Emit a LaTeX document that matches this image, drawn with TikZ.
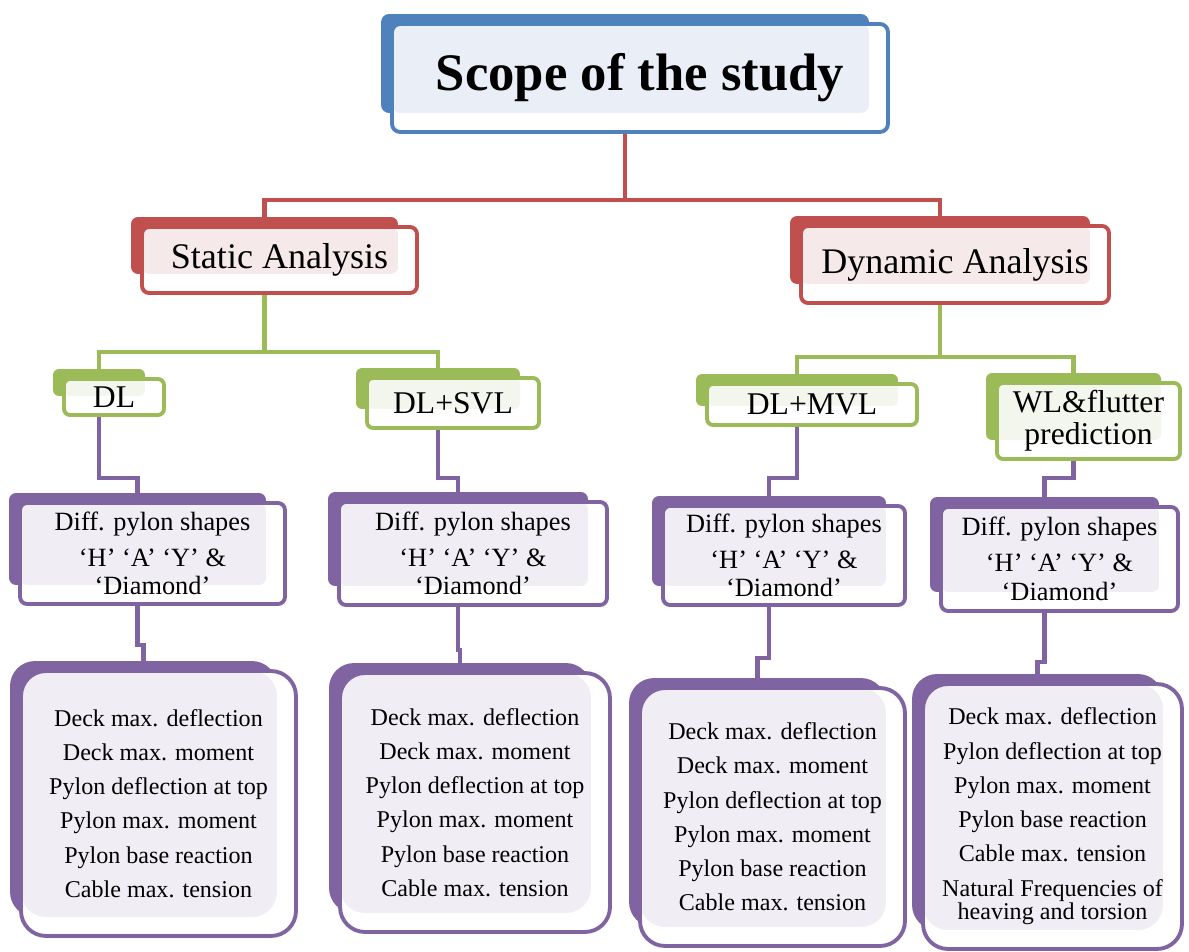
\documentclass[tikz,border=0pt]{standalone}
\usepackage{fontspec}
\setmainfont{Liberation Serif}
\usetikzlibrary{fit,backgrounds}
\definecolor{cblue}{HTML}{4F81BD}
\definecolor{tblue}{HTML}{EAEFF7}
\definecolor{cred}{HTML}{C0504D}
\definecolor{tred}{HTML}{F6E9E9}
\definecolor{cgreen}{HTML}{9BBB59}
\definecolor{tgreen}{HTML}{F3F6EC}
\definecolor{cpurple}{HTML}{8064A2}
\definecolor{tpurple}{HTML}{F0EEF4}
\begin{document}
\begin{tikzpicture}[x=0.02cm,y=-0.02cm,
  frame/.style n args={3}{draw=#1,fill=white,line width=2.2pt,inner sep=0pt,outer sep=0pt,align=center,rounded corners=#3,
    path picture={\fill[#2,rounded corners=#3] (path picture bounding box.north west) rectangle ([shift={(-0.38cm,0.38cm)}]path picture bounding box.south east);}},
  back/.style={fill=#1,inner sep=0pt,outer sep=0pt},
  link/.style={draw=#1,line width=2.6pt},
  bigtext/.style={font=\fontsize{20.5}{24}\selectfont},
  midtext/.style={font=\fontsize{18}{18}\selectfont},
  shapetext/.style={font=\fontsize{15}{20.4}\selectfont},
  listtext/.style={font=\fontsize{13.7}{19.5}\selectfont}]
\useasboundingbox (0,0) rectangle (1189,952);

% level 0 and 1
\node[frame={cblue}{tblue}{0.16cm},minimum width=9.92cm,minimum height=2.16cm,font=\fontsize{30}{34}\selectfont\bfseries] (title) at (640,78) {Scope of the study};
\node[frame={cred}{tred}{0.14cm},minimum width=5.5cm,minimum height=1.32cm,bigtext] (static) at (279.5,260) {Static Analysis};
\node[frame={cred}{tred}{0.14cm},minimum width=6.16cm,minimum height=1.54cm,bigtext] (dynamic) at (955,264.5) {Dynamic Analysis};

% load cases
\node[frame={cgreen}{tgreen}{0.12cm},minimum width=2.0cm,minimum height=0.72cm,midtext] (dl) at (114,397) {DL};
\node[frame={cgreen}{tgreen}{0.12cm},minimum width=3.44cm,minimum height=1.0cm,midtext] (dlsvl) at (453,403) {DL+SVL};
\node[frame={cgreen}{tgreen}{0.12cm},minimum width=4.2cm,minimum height=0.82cm,midtext] (dlmvl) at (812,404.5) {DL+MVL};
\node[frame={cgreen}{tgreen}{0.12cm},minimum width=3.66cm,minimum height=1.52cm,midtext] (wl) at (1088.5,421) {WL\&flutter\\prediction};

% pylon shapes
\node[frame={cpurple}{tpurple}{0.14cm},minimum width=5.3cm,minimum height=2.02cm,shapetext] (diffa) at (152.5,553.5) {Diff. pylon shapes\\‘H’ ‘A’ ‘Y’ \&\\[-4pt]‘Diamond’};
\node[frame={cpurple}{tpurple}{0.14cm},minimum width=5.36cm,minimum height=2.06cm,shapetext] (diffb) at (473,553.5) {Diff. pylon shapes\\‘H’ ‘A’ ‘Y’ \&\\[-4pt]‘Diamond’};
\node[frame={cpurple}{tpurple}{0.14cm},minimum width=4.84cm,minimum height=1.98cm,shapetext] (diffc) at (784,555.5) {Diff. pylon shapes\\‘H’ ‘A’ ‘Y’ \&\\[-4pt]‘Diamond’};
\node[frame={cpurple}{tpurple}{0.14cm},minimum width=4.74cm,minimum height=2.08cm,shapetext] (diffd) at (1059.5,559) {Diff. pylon shapes\\‘H’ ‘A’ ‘Y’ \&\\[-4pt]‘Diamond’};

% results
\node[frame={cpurple}{tpurple}{0.5cm},minimum width=5.5cm,minimum height=5.3cm,listtext] (lista) at (158.5,803.5) {Deck max. deflection\\Deck max. moment\\Pylon deflection at top\\Pylon max. moment\\Pylon base reaction\\Cable max. tension};
\node[frame={cpurple}{tpurple}{0.5cm},minimum width=5.4cm,minimum height=5.18cm,listtext] (listb) at (475,802.5) {Deck max. deflection\\Deck max. moment\\Pylon deflection at top\\Pylon max. moment\\Pylon base reaction\\Cable max. tension};
\node[frame={cpurple}{tpurple}{0.5cm},minimum width=5.3cm,minimum height=5.16cm,listtext] (listc) at (772.5,817) {Deck max. deflection\\Deck max. moment\\Pylon deflection at top\\Pylon max. moment\\Pylon base reaction\\Cable max. tension};
\node[frame={cpurple}{tpurple}{0.5cm},minimum width=5.18cm,minimum height=5.3cm,listtext] (listd) at (1052.5,816.5) {Deck max. deflection\\Pylon deflection at top\\Pylon max. moment\\Pylon base reaction\\Cable max. tension\\Natural Frequencies of\\[-5.9pt]heaving and torsion};

\begin{scope}[on background layer]
  % dark plates behind the frames
  \foreach \n/\c/\r in {title/cblue/0.16,static/cred/0.14,dynamic/cred/0.14,dl/cgreen/0.12,dlsvl/cgreen/0.12,dlmvl/cgreen/0.12,wl/cgreen/0.12,
      diffa/cpurple/0.14,diffb/cpurple/0.14,diffc/cpurple/0.14,diffd/cpurple/0.14,lista/cpurple/0.5,listb/cpurple/0.5,listc/cpurple/0.5,listd/cpurple/0.5}
    \node[back=\c,rounded corners=\r cm,fit={([shift={(-0.22cm,0.38cm)}]\n.south west) ([shift={(-0.38cm,0.2cm)}]\n.north east)}] (b\n) {};

  % connectors
  \coordinate (ry) at (0,200);
  \coordinate (gl) at (0,352);
  \coordinate (gr) at (0,357);
  \coordinate (pe) at (0,478);
  \draw[link=cred] (btitle.south) -- (btitle.south |- ry);
  \draw[link=cred] (bstatic.north) -- (bstatic.north |- ry) -- (bdynamic.north |- ry) -- (bdynamic.north);
  \draw[link=cgreen] (bstatic.south) -- (bstatic.south |- gl);
  \draw[link=cgreen] (bdl.north) -- (bdl.north |- gl) -- (bdlsvl.north |- gl) -- (bdlsvl.north);
  \draw[link=cgreen] (bdynamic.south) -- (bdynamic.south |- gr);
  \draw[link=cgreen] (bdlmvl.north) -- (bdlmvl.north |- gr) -- (bwl.north |- gr) -- (bwl.north);
  \foreach \a/\b in {dl/diffa,dlsvl/diffb,dlmvl/diffc,wl/diffd}
    \draw[link=cpurple] (b\a.south) -- (b\a.south |- pe) -- (b\b.north |- pe) -- (b\b.north);
  \foreach \a/\b/\y in {diffa/lista/645,diffb/listb/650,diffc/listc/658,diffd/listd/662}{
    \coordinate (jog) at (0,\y);
    \draw[link=cpurple] (b\a.south) -- (b\a.south |- jog) -- (b\b.north |- jog) -- (b\b.north);
  }
\end{scope}
\end{tikzpicture}
\end{document}
